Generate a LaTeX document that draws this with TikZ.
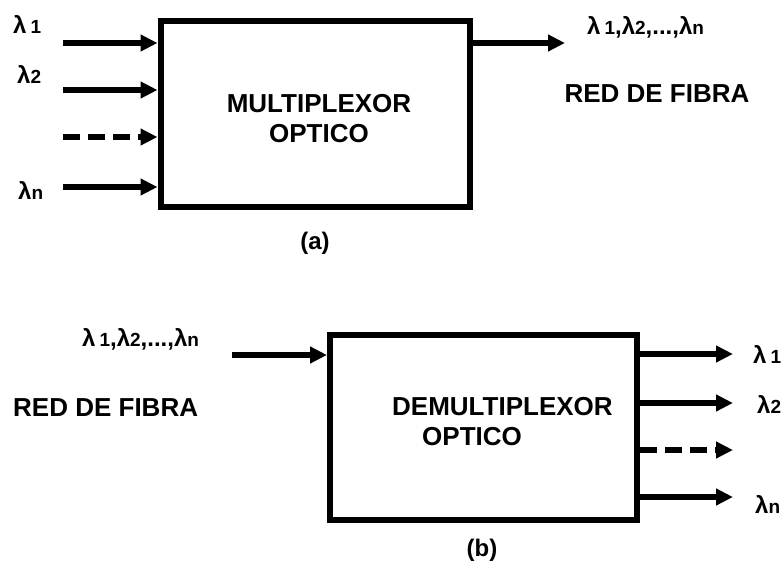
\documentclass[tikz,border=0pt]{standalone}
\usepackage{fontspec}
\setmainfont{Liberation Sans}
\usetikzlibrary{arrows.meta,positioning}
\newcommand{\wsub}[1]{{\fontsize{19}{22}\selectfont #1}}
\tikzset{
  muxbox/.style={draw=black,line width=6pt,minimum width=309pt,minimum height=186pt,inner sep=0pt},
  boxtext/.style={font=\fontsize{26}{30}\selectfont\bfseries,inner sep=0pt},
  lamlabel/.style={font=\fontsize{24}{28}\selectfont\bfseries,inner sep=0pt,anchor=base west},
  caption/.style={font=\fontsize{24}{28}\selectfont\bfseries,inner sep=0pt,anchor=base},
  flowarrow/.style={-{Triangle[length=17pt,width=16pt]},line width=6pt},
  dasharrow/.style={flowarrow,dash pattern=on 17pt off 8pt}
}
\begin{document}
\begin{tikzpicture}[x=1pt,y=-1pt]
\useasboundingbox (0,0) rectangle (784,565);
% (a) multiplexor
\node[muxbox] (mux) at (315,114) {};
\node[boxtext,align=center] (muxname) at (319,119) {MULTIPLEXOR\\OPTICO};
\coordinate (in1) at (63,43);
\coordinate (in2) at (63,90);
\coordinate (in3) at (63,137);
\coordinate (in4) at (63,187);
\coordinate (muxout) at (565,43);
\node[lamlabel] (lamin1) at (13,33) {λ\,\wsub{1}};
\node[lamlabel] (lamin2) at (17,83) {λ\wsub{2}};
\node[lamlabel] (lamin4) at (18,199) {λ\wsub{n}};
\node[lamlabel] (lamall) at (587,34) {λ\,\wsub{1},λ\wsub{2},...,λ\wsub{n}};
\node[boxtext,anchor=base] (fibra) at (657,102) {RED DE FIBRA};
\node[caption] (capa) at (315,249) {(a)};
\draw[flowarrow] (in1) -- (in1 -| mux.west);
\draw[flowarrow] (in2) -- (in2 -| mux.west);
\draw[dasharrow] (in3) -- (in3 -| mux.west);
\draw[flowarrow] (in4) -- (in4 -| mux.west);
\draw[flowarrow] (muxout -| mux.east) -- (muxout);
% (b) demultiplexor
\node[muxbox,minimum width=307pt,minimum height=185pt] (demux) at (483.5,427.5) {};
\node[boxtext,align=left,anchor=west] (demuxname) at (392,422) {DEMULTIPLEXOR\\\hspace*{30pt}OPTICO};
\coordinate (fibin) at (232,355);
\coordinate (out1) at (733,354);
\coordinate (out2) at (733,403);
\coordinate (out3) at (733,450);
\coordinate (out4) at (733,497);
\node[lamlabel] (lamallb) at (82,346) {λ\,\wsub{1},λ\wsub{2},...,λ\wsub{n}};
\node[boxtext,anchor=base west] (fibrab) at (13,416) {RED DE FIBRA};
\node[lamlabel] (lamout1) at (753,363) {λ\,\wsub{1}};
\node[lamlabel] (lamout2) at (757,413) {λ\wsub{2}};
\node[lamlabel] (lamout4) at (755,513) {λ\wsub{n}};
\node[caption] (capb) at (482,556) {(b)};
\draw[flowarrow] (fibin) -- (fibin -| demux.west);
\draw[flowarrow] (out1 -| demux.east) -- (out1);
\draw[flowarrow] (out2 -| demux.east) -- (out2);
\draw[dasharrow] (out3 -| demux.east) -- (out3);
\draw[flowarrow] (out4 -| demux.east) -- (out4);
\end{tikzpicture}
\end{document}
